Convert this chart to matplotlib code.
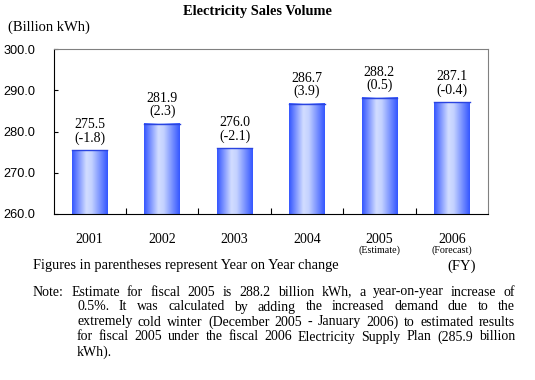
import numpy as np
import matplotlib
matplotlib.use("Agg")
import matplotlib.pyplot as plt
from matplotlib.colors import LinearSegmentedColormap
from matplotlib.transforms import blended_transform_factory

# du lieu
years = ["2001", "2002", "2003", "2004", "2005", "2006"]
sub_labels = ["", "", "", "", "(Estimate)", "(Forecast)"]
sales = [275.5, 281.9, 276.0, 286.7, 288.2, 287.1]
yoy = ["-1.8", "2.3", "-2.1", "3.9", "0.5", "-0.4"]
y_ticks = [260.0, 270.0, 280.0, 290.0, 300.0]

note_lines = [
    "Note: Estimate for fiscal 2005 is 288.2 billion kWh, a year-on-year increase of",
    "0.5%. It was calculated by adding the increased demand due to the",
    "extremely cold winter (December 2005 - January 2006) to estimated results",
    "for fiscal 2005 under the fiscal 2006 Electricity Supply Plan (285.9 billion",
    "kWh).",
]

plt.rcParams["font.family"] = ["Liberation Serif", "DejaVu Serif"]
FS = 10

fig = plt.figure(figsize=(5.35, 3.8), dpi=100)
ax = fig.add_axes([53.5 / 535, 1 - 214 / 380, 434.5 / 535, 165 / 380])

x = np.arange(len(years))
bars = ax.bar(x, sales, width=0.49, color="none", edgecolor="none", zorder=2)

# gradient ngang cho cot
cmap = LinearSegmentedColormap.from_list(
    "bar", [(0, "#3355ff"), (0.40, "#d2ddff"), (0.55, "#c4d2ff"), (1, "#3355ff")])
grad = np.linspace(0, 1, 256).reshape(1, -1)
for b in bars:
    x0, w, h = b.get_x(), b.get_width(), b.get_height()
    ax.imshow(grad, cmap=cmap, aspect="auto", extent=[x0, x0 + w, 260, h],
              zorder=2, interpolation="bicubic")
    ax.plot([x0, x0 + w], [h, h], color="#2a44e0", lw=1.0, zorder=3)

for xi, v, c in zip(x, sales, yoy):
    ax.text(xi, v + 1.3, f"{v:.1f}\n({c})", ha="center", va="bottom",
            fontsize=FS, linespacing=1.0)

ax.set_xlim(-0.5, len(years) - 0.5)
ax.set_ylim(260, 300)
ax.set_yticks(y_ticks)
ax.set_yticklabels([f"{t:.1f}" for t in y_ticks], fontsize=9.2,
                   family=["Liberation Sans", "DejaVu Sans"])
ax.tick_params(axis="y", direction="in", length=3, width=0.8, pad=13)
ax.set_xticks(x)
ax.set_xticklabels(years, fontsize=FS)
ax.tick_params(axis="x", which="major", length=0, pad=14)
ax.set_xticks(np.arange(0.5, len(years) - 1), minor=True)
ax.tick_params(axis="x", which="minor", direction="in", length=4, width=0.8)

for s in ["left", "bottom"]:
    ax.spines[s].set_color("black")
for s in ["top", "right"]:
    ax.spines[s].set_color("#808080")

tr = blended_transform_factory(ax.transData, fig.transFigure)
for xi, s in zip(x, sub_labels):
    if s:
        ax.text(xi, 1 - 250 / 380, s, transform=tr, ha="center", va="center", fontsize=7.2)

fig.text(257 / 535, 1 - 12 / 380, "Electricity Sales Volume",
         ha="center", va="center", fontsize=10.4, fontweight="bold")
fig.text(8 / 535, 1 - 27 / 380, "(Billion kWh)", ha="left", va="center", fontsize=10.5)
fig.text(33 / 535, 1 - 266 / 380, "Figures in parentheses represent Year on Year change",
         ha="left", va="center", fontsize=10.4)
fig.text(476 / 535, 1 - 266 / 380, "(FY)", ha="right", va="center", fontsize=10.5)

# ghi chu, can deu hai ben
renderer = fig.canvas.get_renderer()
right_px = 515
for i, line in enumerate(note_lines):
    y = 1 - (292 + 15 * i) / 380
    left_px = 33 if i == 0 else 77
    words = line.split(" ")
    if i == len(note_lines) - 1:
        fig.text(left_px / 535, y, line, ha="left", va="center", fontsize=FS)
        continue
    items = [fig.text(0, y, w, ha="left", va="center", fontsize=FS) for w in words]
    widths = [t.get_window_extent(renderer).width for t in items]
    gap = (right_px - left_px - sum(widths)) / (len(words) - 1)
    pos = left_px
    for t, wd in zip(items, widths):
        t.set_x(pos / 535)
        pos += wd + gap

fig.savefig("out.png", dpi=100)
